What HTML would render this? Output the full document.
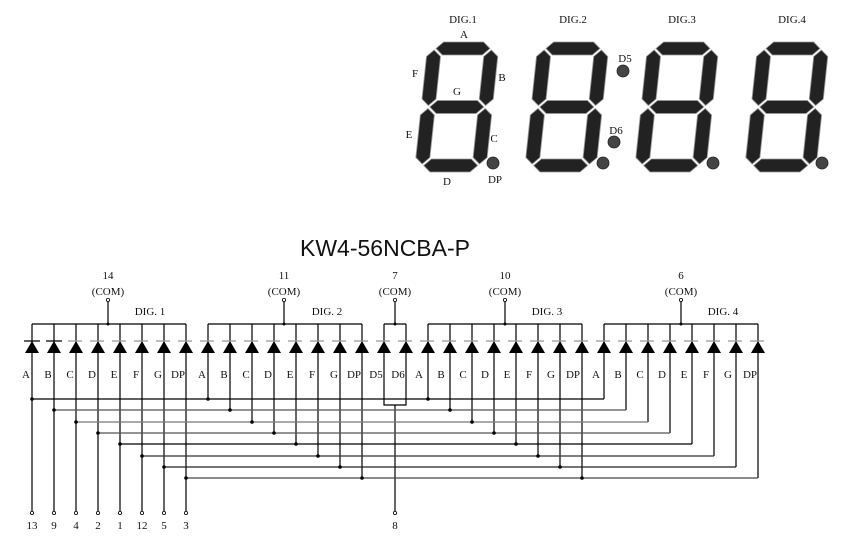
<!DOCTYPE html>
<html><head><meta charset="utf-8"><style>
html,body{margin:0;padding:0;background:#fff}
svg{display:block}
text{font-family:"Liberation Serif",serif;fill:#111}
</style></head><body>
<svg width="841" height="542" viewBox="0 0 841 542" xmlns="http://www.w3.org/2000/svg">
<defs>
<g id="dg" fill="#222" stroke="#999" stroke-width="0.8">
<polygon points="8,6.5 14.5,0 51.5,0 58,6.5 51.5,13 14.5,13"/>
<polygon points="8,65 14.5,58.5 51.5,58.5 58,65 51.5,71.5 14.5,71.5"/>
<polygon points="8,123.5 14.5,117 51.5,117 58,123.5 51.5,130 14.5,130"/>
<polygon points="6.5,8 13,14.5 13,57 6.5,63.5 0,57 0,14.5"/>
<polygon points="59.5,8 66,14.5 66,57 59.5,63.5 53,57 53,14.5"/>
<polygon points="6.5,66.5 13,73 13,115.5 6.5,122 0,115.5 0,73"/>
<polygon points="59.5,66.5 66,73 66,115.5 59.5,122 53,115.5 53,73"/>
</g>
<g id="di"><polygon points="0,341 -7,353 7,353" fill="#000"/></g>
</defs>
<!-- digits -->
<use href="#dg" transform="translate(428,42) skewX(-6) scale(1.08,1)"/>
<use href="#dg" transform="translate(538,42) skewX(-6) scale(1.08,1)"/>
<use href="#dg" transform="translate(648,42) skewX(-6) scale(1.08,1)"/>
<use href="#dg" transform="translate(758,42) skewX(-6) scale(1.08,1)"/>
<g fill="#444" stroke="#222" stroke-width="0.8">
<circle cx="493" cy="163" r="6"/><circle cx="603" cy="163" r="6"/><circle cx="713" cy="163" r="6"/><circle cx="822" cy="163" r="6"/>
<circle cx="623" cy="71" r="6"/><circle cx="614" cy="142" r="6"/>
</g>
<g font-size="11">
<text x="463" y="23" text-anchor="middle">DIG.1</text>
<text x="573" y="23" text-anchor="middle">DIG.2</text>
<text x="682" y="23" text-anchor="middle">DIG.3</text>
<text x="792" y="23" text-anchor="middle">DIG.4</text>
<text x="464" y="38" text-anchor="middle">A</text>
<text x="415" y="77" text-anchor="middle">F</text>
<text x="502" y="81" text-anchor="middle">B</text>
<text x="457" y="95" text-anchor="middle">G</text>
<text x="409" y="138" text-anchor="middle">E</text>
<text x="494" y="142" text-anchor="middle">C</text>
<text x="447" y="185" text-anchor="middle">D</text>
<text x="495" y="183" text-anchor="middle">DP</text>
<text x="625" y="62" text-anchor="middle">D5</text>
<text x="616" y="134" text-anchor="middle">D6</text>
</g>
<text x="385" y="256" text-anchor="middle" font-size="23" style="font-family:'Liberation Sans',sans-serif">KW4-56NCBA-P</text>

<!-- COM labels -->
<g font-size="11" text-anchor="middle">
<text x="108" y="279">14</text><text x="108" y="295">(COM)</text>
<text x="284" y="279">11</text><text x="284" y="295">(COM)</text>
<text x="395" y="279">7</text><text x="395" y="295">(COM)</text>
<text x="505" y="279">10</text><text x="505" y="295">(COM)</text>
<text x="681" y="279">6</text><text x="681" y="295">(COM)</text>
<text x="150" y="315">DIG. 1</text>
<text x="327" y="315">DIG. 2</text>
<text x="547" y="315">DIG. 3</text>
<text x="723" y="315">DIG. 4</text>
</g>
<g stroke="#000" stroke-width="1.2" fill="none">
<!-- buses -->
<path d="M32,324H186M208,324H362M384,324H406M428,324H582M604,324H758"/>
<path d="M108,300V324M284,300V324M395,300V324M505,300V324M681,300V324"/>
<!-- dig1 verticals to pins -->
<path d="M32,324V513M54,324V513M76,324V513M98,324V513M120,324V513M142,324V513M164,324V513M186,324V513"/>
<!-- D5 D6 -->
<path d="M384,324V405H406V324M395,405V513"/>
<!-- dig2,3,4 verticals -->
<path d="M208,324V399M230,324V410M252,324V422M274,324V433M296,324V444M318,324V456M340,324V467M362,324V478"/>
<path d="M428,324V399M450,324V410M472,324V422M494,324V433M516,324V444M538,324V456M560,324V467M582,324V478"/>
<path d="M604,324V399M626,324V410M648,324V422M670,324V433M692,324V444M714,324V456M736,324V467M758,324V478"/>
</g>
<g stroke-width="1.2" fill="none">
<path d="M32,399H604" stroke="#000"/>
<path d="M54,410H626" stroke="#555"/>
<path d="M76,422H648" stroke="#777"/>
<path d="M98,433H670" stroke="#555"/>
<path d="M120,444H692" stroke="#000"/>
<path d="M142,456H714" stroke="#333"/>
<path d="M164,467H736" stroke="#222"/>
<path d="M186,478H758" stroke="#444"/>
</g>
<!-- diodes -->
<g>
<use href="#di" x="32"/><use href="#di" x="54"/><use href="#di" x="76"/><use href="#di" x="98"/><use href="#di" x="120"/><use href="#di" x="142"/><use href="#di" x="164"/><use href="#di" x="186"/>
<use href="#di" x="208"/><use href="#di" x="230"/><use href="#di" x="252"/><use href="#di" x="274"/><use href="#di" x="296"/><use href="#di" x="318"/><use href="#di" x="340"/><use href="#di" x="362"/>
<use href="#di" x="384"/><use href="#di" x="406"/>
<use href="#di" x="428"/><use href="#di" x="450"/><use href="#di" x="472"/><use href="#di" x="494"/><use href="#di" x="516"/><use href="#di" x="538"/><use href="#di" x="560"/><use href="#di" x="582"/>
<use href="#di" x="604"/><use href="#di" x="626"/><use href="#di" x="648"/><use href="#di" x="670"/><use href="#di" x="692"/><use href="#di" x="714"/><use href="#di" x="736"/><use href="#di" x="758"/>
</g>
<path d="M24,341H40M46,341H62" stroke="#000" stroke-width="1.2"/>
<path d="M68,341H766" stroke="#999" stroke-width="1.2" stroke-dasharray="14,8"/>
<!-- dots -->
<g fill="#000">
<circle cx="32" cy="399" r="1.8"/><circle cx="208" cy="399" r="1.8"/><circle cx="428" cy="399" r="1.8"/>
<circle cx="54" cy="410" r="1.8"/><circle cx="230" cy="410" r="1.8"/><circle cx="450" cy="410" r="1.8"/>
<circle cx="76" cy="422" r="1.8"/><circle cx="252" cy="422" r="1.8"/><circle cx="472" cy="422" r="1.8"/>
<circle cx="98" cy="433" r="1.8"/><circle cx="274" cy="433" r="1.8"/><circle cx="494" cy="433" r="1.8"/>
<circle cx="120" cy="444" r="1.8"/><circle cx="296" cy="444" r="1.8"/><circle cx="516" cy="444" r="1.8"/>
<circle cx="142" cy="456" r="1.8"/><circle cx="318" cy="456" r="1.8"/><circle cx="538" cy="456" r="1.8"/>
<circle cx="164" cy="467" r="1.8"/><circle cx="340" cy="467" r="1.8"/><circle cx="560" cy="467" r="1.8"/>
<circle cx="186" cy="478" r="1.8"/><circle cx="362" cy="478" r="1.8"/><circle cx="582" cy="478" r="1.8"/>
<circle cx="108" cy="324" r="1.5"/><circle cx="284" cy="324" r="1.5"/><circle cx="395" cy="324" r="1.5"/><circle cx="505" cy="324" r="1.5"/><circle cx="681" cy="324" r="1.5"/>
</g>
<g fill="#fff" stroke="#000" stroke-width="0.8">
<circle cx="108" cy="300" r="1.6"/><circle cx="284" cy="300" r="1.6"/><circle cx="395" cy="300" r="1.6"/><circle cx="505" cy="300" r="1.6"/><circle cx="681" cy="300" r="1.6"/>
<circle cx="32" cy="513" r="1.6"/><circle cx="54" cy="513" r="1.6"/><circle cx="76" cy="513" r="1.6"/><circle cx="98" cy="513" r="1.6"/><circle cx="120" cy="513" r="1.6"/><circle cx="142" cy="513" r="1.6"/><circle cx="164" cy="513" r="1.6"/><circle cx="186" cy="513" r="1.6"/><circle cx="395" cy="513" r="1.6"/>
</g>
<!-- segment labels -->
<g font-size="11" text-anchor="middle">
<text x="26" y="378">A</text><text x="48" y="378">B</text><text x="70" y="378">C</text><text x="92" y="378">D</text><text x="114" y="378">E</text><text x="136" y="378">F</text><text x="158" y="378">G</text><text x="178" y="378">DP</text>
<text x="202" y="378">A</text><text x="224" y="378">B</text><text x="246" y="378">C</text><text x="268" y="378">D</text><text x="290" y="378">E</text><text x="312" y="378">F</text><text x="334" y="378">G</text><text x="354" y="378">DP</text>
<text x="376" y="378">D5</text><text x="398" y="378">D6</text>
<text x="419" y="378">A</text><text x="441" y="378">B</text><text x="463" y="378">C</text><text x="485" y="378">D</text><text x="507" y="378">E</text><text x="529" y="378">F</text><text x="551" y="378">G</text><text x="573" y="378">DP</text>
<text x="596" y="378">A</text><text x="618" y="378">B</text><text x="640" y="378">C</text><text x="662" y="378">D</text><text x="684" y="378">E</text><text x="706" y="378">F</text><text x="728" y="378">G</text><text x="750" y="378">DP</text>
<text x="32" y="529">13</text><text x="54" y="529">9</text><text x="76" y="529">4</text><text x="98" y="529">2</text><text x="120" y="529">1</text><text x="142" y="529">12</text><text x="164" y="529">5</text><text x="186" y="529">3</text><text x="395" y="529">8</text>
</g>
</svg>
</body></html>
